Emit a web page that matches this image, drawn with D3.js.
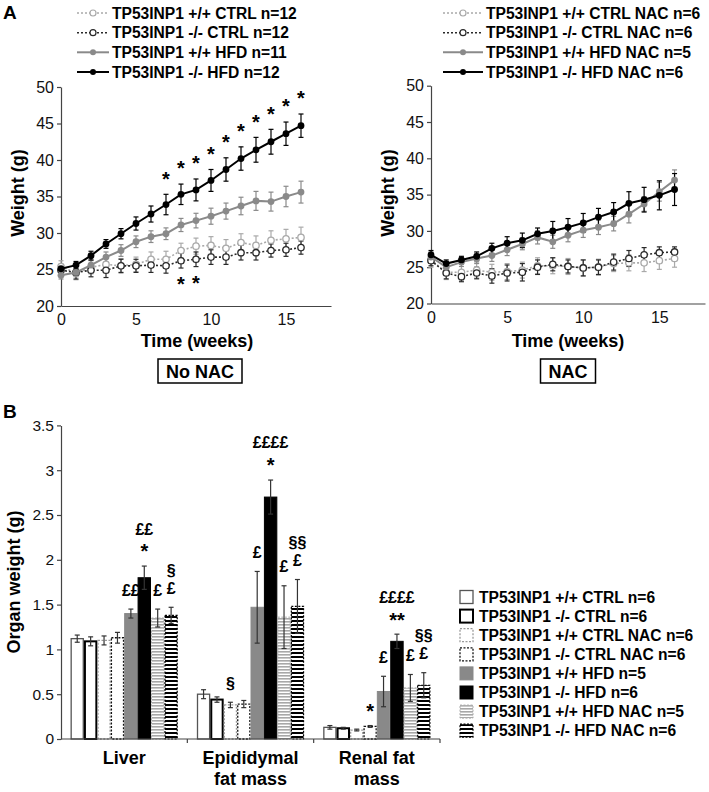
<!DOCTYPE html>
<html><head><meta charset="utf-8">
<script src="https://cdn.jsdelivr.net/npm/d3@7"></script>
<style>
body{margin:0;background:#fff}
svg{display:block}
text{font-family:"Liberation Sans",Arial,Helvetica,sans-serif;fill:#000}
</style>
</head><body>
<svg id="c" width="709" height="792"></svg>
<script>
// ---------- DATA ----------
const weeks = [0,1,2,3,4,5,6,7,8,9,10,11,12,13,14,15,16];
const yTicksLine = [20,25,30,35,40,45,50];
const xTicksLine = [0,5,10,15];

const lineLegendL = ["TP53INP1 +/+ CTRL n=12","TP53INP1 -/- CTRL n=12","TP53INP1 +/+ HFD n=11","TP53INP1 -/- HFD n=12"];
const lineLegendR = ["TP53INP1 +/+ CTRL NAC n=6","TP53INP1 -/- CTRL NAC n=6","TP53INP1 +/+ HFD NAC n=5","TP53INP1 -/- HFD NAC n=6"];

// No NAC
const ctrlWT = [25.4,24.5,25.3,25.7,25.5,25.7,26.4,26.4,27.6,28.2,28.3,27.9,28.7,28.3,29.0,29.2,29.4];
const ctrlWTErr = [0.8,0.9,0.9,1.0,1.0,1.0,1.0,1.1,1.0,1.1,1.2,1.2,1.2,1.3,1.3,1.3,1.4];
const ctrlKO = [24.9,24.6,24.9,24.9,25.5,25.5,25.6,25.5,26.2,26.4,26.7,26.7,27.3,27.3,27.6,27.7,28.0];
const ctrlKOErr = [0.8,0.9,0.9,1.0,0.9,0.9,1.0,1.0,1.0,1.0,1.0,1.0,1.0,1.0,0.9,0.9,0.9];
const hfdWT = [24.2,24.6,25.6,26.7,27.6,28.8,29.5,29.9,31.1,31.7,32.3,33.0,33.7,34.4,34.3,35.0,35.6];
const hfdWTErr = [0.5,0.6,0.7,0.7,0.8,0.8,0.8,0.8,0.9,1.0,1.1,1.1,1.2,1.3,1.3,1.4,1.5];
const hfdKO = [25.1,25.6,26.9,28.5,29.9,31.3,32.6,33.9,35.3,35.9,37.2,38.7,40.2,41.4,42.5,43.6,44.7];
const hfdKOErr = [0.5,0.5,0.6,0.6,0.7,0.9,1.1,1.4,1.4,1.5,1.5,1.6,1.6,1.7,1.7,1.6,1.6];
const starsAboveWeeks = [7,8,9,10,11,12,13,14,15,16];
const starsBelowWeeks = [8,9];

// NAC
const nacCtrlWT = [26.0,24.3,24.3,24.6,24.3,24.4,24.6,25.2,25.2,25.1,24.9,25.0,25.5,25.6,25.6,25.9,26.2];
const nacCtrlWTErr = [1.0,1.0,1.1,1.1,1.1,1.1,1.1,1.1,1.1,1.1,1.1,1.1,1.1,1.1,1.2,1.2,1.2];
const nacCtrlKO = [25.9,24.2,23.7,24.2,23.8,24.2,24.3,25.0,25.4,25.1,24.9,25.0,25.7,26.2,26.7,27.0,27.1];
const nacCtrlKOErr = [0.7,0.8,0.7,0.8,1.0,1.1,1.2,1.0,0.9,0.9,1.1,1.0,1.1,1.1,1.0,0.8,0.7];
const nacHfdWT = [26.4,25.0,25.7,26.2,26.6,27.4,28.2,29.1,28.5,29.4,30.1,30.5,31.0,32.3,33.7,35.4,37.0];
const nacHfdWTErr = [0.7,0.6,0.6,0.7,0.8,0.8,0.8,0.9,0.9,0.9,1.0,1.0,1.0,1.2,1.0,1.3,1.4];
const nacHfdKO = [26.7,25.5,26.0,26.5,27.6,28.3,28.7,29.6,30.0,30.5,31.1,31.9,32.6,33.8,34.3,34.9,35.7];
const nacHfdKOErr = [0.6,0.5,0.5,0.6,0.7,0.9,1.0,0.8,1.3,1.2,1.3,1.2,1.3,1.6,1.7,2.0,2.2];

// Organ weights
const organs = ["Liver","Epididymal fat mass","Renal fat mass"];
const organLabels = [["Liver"],["Epididymal","fat mass"],["Renal fat","mass"]];
const barGroups = ["TP53INP1 +/+ CTRL n=6","TP53INP1 -/- CTRL n=6","TP53INP1 +/+ CTRL NAC n=6","TP53INP1 -/- CTRL NAC n=6","TP53INP1 +/+ HFD n=5","TP53INP1 -/- HFD n=6","TP53INP1 +/+ HFD NAC n=5","TP53INP1 -/- HFD NAC n=6"];
const liverMean = [1.12,1.09,1.10,1.13,1.40,1.80,1.35,1.38];
const liverErr  = [0.04,0.05,0.05,0.06,0.05,0.13,0.10,0.09];
const epiMean   = [0.50,0.44,0.38,0.39,1.47,2.70,1.36,1.48];
const epiErr    = [0.05,0.03,0.03,0.04,0.40,0.19,0.35,0.30];
const renalMean = [0.13,0.12,0.10,0.14,0.53,1.09,0.57,0.60];
const renalErr  = [0.02,0.01,0.01,0.01,0.17,0.08,0.15,0.14];
const liverMarks = [[],[],[],[],["££"],["*","££"],["£"],["£","§"]];
const epiMarks   = [[],[],["§"],[],["£"],["*","££££"],["£"],["£","§§"]];
const renalMarks = [[],[],[],["*"],["£"],["**","££££"],["£"],["£","§§"]];
const yTicksBar = [0,0.5,1,1.5,2,2.5,3,3.5];

// ---------- DRAW ----------
const svg = d3.select("#c");
const defs = svg.append("defs");
const pd = defs.append("pattern").attr("id","hatchDark").attr("patternUnits","userSpaceOnUse").attr("width",4).attr("height",4);
pd.append("rect").attr("width",4).attr("height",4).attr("fill","#fff");
pd.append("rect").attr("width",4).attr("height",2).attr("fill","#000");
const pl = defs.append("pattern").attr("id","hatchLight").attr("patternUnits","userSpaceOnUse").attr("width",4).attr("height",3);
pl.append("rect").attr("width",4).attr("height",3).attr("fill","#fff");
pl.append("rect").attr("width",4).attr("height",1.6).attr("fill","#a8a8a8");

const lineStyles = [
  {color:"#a9a9a9", dash:"2,2", open:true},
  {color:"#2a2a2a", dash:"2,2", open:true},
  {color:"#8a8a8a", dash:null, open:false},
  {color:"#000000", dash:null, open:false}
];

function glyphBaseline(t, cy, fs){ return t.indexOf("*")>=0 ? cy + 0.57*fs : cy + 0.34*fs; }

function lineChart(x, y, series, errs, above, below, legend, legendX){
  const g = svg.append("g");
  const ya = g.append("g").attr("transform",`translate(${x(0)},0)`)
    .call(d3.axisLeft(y).tickValues(yTicksLine).tickSize(4).tickSizeOuter(0).tickPadding(3));
  const xa = g.append("g").attr("transform",`translate(0,${y(20)})`)
    .call(d3.axisBottom(x).tickValues(xTicksLine).tickSize(0).tickSizeOuter(0).tickPadding(8));
  [ya,xa].forEach(a=>{a.selectAll("text").attr("font-size",16).attr("font-family",null).style("fill","#111");
    a.selectAll("path,line").attr("stroke","#444").attr("stroke-width",1.2);});
  series.forEach((s,k)=>{
    const st = lineStyles[k], e = errs[k];
    const eg = g.append("g").attr("stroke",st.color).attr("stroke-width",1.2);
    weeks.forEach((w,i)=>{
      const cx = x(w), y1 = y(s[i]-e[i]), y2 = y(s[i]+e[i]);
      eg.append("line").attr("x1",cx).attr("x2",cx).attr("y1",y1).attr("y2",y2);
      eg.append("line").attr("x1",cx-2.5).attr("x2",cx+2.5).attr("y1",y1).attr("y2",y1);
      eg.append("line").attr("x1",cx-2.5).attr("x2",cx+2.5).attr("y1",y2).attr("y2",y2);
    });
  });
  series.forEach((s,k)=>{
    const st = lineStyles[k];
    g.append("path").datum(weeks).attr("fill","none").attr("stroke",st.color)
      .attr("stroke-width",st.open?1.6:2).attr("stroke-dasharray",st.dash)
      .attr("d",d3.line().x(w=>x(w)).y((w,i)=>y(s[i])));
    g.selectAll(null).data(weeks).join("circle")
      .attr("cx",w=>x(w)).attr("cy",(w,i)=>y(s[i])).attr("r",st.open?3.2:3.4)
      .attr("fill",st.open?"#fff":st.color).attr("stroke",st.color).attr("stroke-width",st.open?1.3:0);
  });
  if(above){
    const s = series[3], e = errs[3];
    above.forEach(w=>{ const cy = y(s[w]+e[w]) - 20;
      g.append("text").attr("x",x(w)).attr("y",glyphBaseline("*",cy,20)).attr("text-anchor","middle")
       .attr("font-size",20).attr("font-weight","bold").text("*"); });
  }
  if(below){
    const s = series[1], e = errs[1];
    below.forEach(w=>{ const cy = y(s[w]-e[w]) + 12;
      g.append("text").attr("x",x(w)).attr("y",glyphBaseline("*",cy,20)).attr("text-anchor","middle")
       .attr("font-size",20).attr("font-weight","bold").text("*"); });
  }
  const rowY = [13,32.7,52.3,72];
  legend.forEach((t,k)=>{
    const st = lineStyles[k], cy = rowY[k];
    const lx = legendX[0], lx2 = legendX[1];
    g.append("line").attr("x1",lx).attr("x2",lx2).attr("y1",cy).attr("y2",cy)
      .attr("stroke",st.color).attr("stroke-width",st.open?1.4:2).attr("stroke-dasharray",st.dash);
    g.append("circle").attr("cx",(lx+lx2)/2).attr("cy",cy).attr("r",3)
      .attr("fill",st.open?"#fff":st.color).attr("stroke",st.color).attr("stroke-width",st.open?1.2:0);
    g.append("text").attr("x",lx2+3).attr("y",cy+5.5).attr("font-size",15.6).attr("font-weight","bold").text(t);
  });
  return g;
}

const xL = d3.scaleLinear().domain([0,18]).range([61,331]);
const yL = d3.scaleLinear().domain([20,50]).range([306,87]);
const xR = d3.scaleLinear().domain([0,18]).range([431,705]);
const yR = d3.scaleLinear().domain([20,50]).range([303.5,85.7]);

lineChart(xL, yL, [ctrlWT,ctrlKO,hfdWT,hfdKO], [ctrlWTErr,ctrlKOErr,hfdWTErr,hfdKOErr], starsAboveWeeks, starsBelowWeeks, lineLegendL, [77,109]);
lineChart(xR, yR, [nacCtrlWT,nacCtrlKO,nacHfdWT,nacHfdKO], [nacCtrlWTErr,nacCtrlKOErr,nacHfdWTErr,nacHfdKOErr], null, null, lineLegendR, [443,483]);

function vLabel(x, cy, t, fs){
  svg.append("text").attr("transform",`translate(${x},${cy}) rotate(-90)`).attr("text-anchor","middle")
    .attr("font-size",fs).attr("font-weight","bold").text(t);
}
vLabel(24, 193, "Weight (g)", 18);
vLabel(394, 193, "Weight (g)", 18);
svg.append("text").attr("x",197).attr("y",347).attr("text-anchor","middle").attr("font-size",18).attr("font-weight","bold").text("Time (weeks)");
svg.append("text").attr("x",568).attr("y",347).attr("text-anchor","middle").attr("font-size",18).attr("font-weight","bold").text("Time (weeks)");
function boxLabel(cx, cy, t){
  const bg = svg.append("g");
  const rect = bg.append("rect");
  const tx = bg.append("text").attr("x",cx).attr("y",cy+6.5).attr("text-anchor","middle").attr("font-size",18).attr("font-weight","bold").text(t);
  const w = tx.node().getComputedTextLength();
  rect.attr("x",cx-w/2-8).attr("y",cy-12).attr("width",w+16).attr("height",24)
    .attr("fill","#fff").attr("stroke","#000").attr("stroke-width",1.5);
}
boxLabel(200, 371, "No NAC");
boxLabel(568, 371, "NAC");
svg.append("text").attr("x",3).attr("y",19).attr("font-size",19).attr("font-weight","bold").text("A");
svg.append("text").attr("x",3).attr("y",418).attr("font-size",19).attr("font-weight","bold").text("B");

// ---------- BAR CHART ----------
const yB = d3.scaleLinear().domain([0,3.5]).range([739,425.4]);
const x0 = d3.scaleBand().domain(organs).range([61,440]).padding(0);
const x1 = d3.scaleBand().domain(d3.range(barGroups.length)).range([0,x0.bandwidth()]).paddingInner(0).paddingOuter(0.71);
const barMeans = [liverMean, epiMean, renalMean];
const barErrs = [liverErr, epiErr, renalErr];
const barMarks = [liverMarks, epiMarks, renalMarks];
const barStyle = [
  {fill:"#fff", stroke:"#555", sw:1.3, dash:null},
  {fill:"#fff", stroke:"#000", sw:2, dash:null},
  {fill:"#fff", stroke:"#9a9a9a", sw:1.3, dash:"2,1.5"},
  {fill:"#fff", stroke:"#111", sw:1.3, dash:"2,1.5"},
  {fill:"#898989", stroke:"#898989", sw:1, dash:null},
  {fill:"#000", stroke:"#000", sw:1, dash:null},
  {fill:"url(#hatchLight)", stroke:"#aaa", sw:1, dash:"2,1.5"},
  {fill:"url(#hatchDark)", stroke:"#000", sw:1.2, dash:"2,1.5"}
];
const gb = svg.append("g");
const yaB = gb.append("g").attr("transform",`translate(61,0)`)
  .call(d3.axisLeft(yB).tickValues(yTicksBar).tickFormat(d=>String(d)).tickSize(4).tickSizeOuter(0).tickPadding(3));
yaB.selectAll("text").attr("font-size",15.5).attr("font-family",null).style("fill","#111");
yaB.selectAll("path,line").attr("stroke","#444").attr("stroke-width",1.2);

organs.forEach((o,oi)=>{
  const gx = x0(o);
  barGroups.forEach((b,bi)=>{
    const st = barStyle[bi], v = barMeans[oi][bi], e = barErrs[oi][bi];
    const bx = gx + x1(bi), bw = x1.bandwidth();
    const inset = st.sw/2;
    gb.append("rect").attr("x",bx+inset).attr("y",yB(v)).attr("width",bw-2*inset).attr("height",yB(0)-yB(v))
      .attr("fill",st.fill).attr("stroke",st.stroke).attr("stroke-width",st.sw).attr("stroke-dasharray",st.dash);
    const cx = bx + bw/2, y1 = yB(v-e), y2 = yB(v+e);
    const eg = gb.append("g").attr("stroke","#333").attr("stroke-width",1.2);
    eg.append("line").attr("x1",cx).attr("x2",cx).attr("y1",y1).attr("y2",y2);
    eg.append("line").attr("x1",cx-2.5).attr("x2",cx+2.5).attr("y1",y1).attr("y2",y1);
    eg.append("line").attr("x1",cx-2.5).attr("x2",cx+2.5).attr("y1",y2).attr("y2",y2);
    barMarks[oi][bi].forEach((t,li)=>{
      const cy = y2 - 19 - li*18;
      const fs = t.indexOf("*")>=0 ? 20 : 16;
      gb.append("text").attr("x",cx).attr("y",glyphBaseline(t,cy,fs)).attr("text-anchor","middle")
        .attr("font-size",fs).attr("font-weight","bold").text(t);
    });
  });
  organLabels[oi].forEach((t,li)=>{
    gb.append("text").attr("x",gx+x0.bandwidth()/2).attr("y",763.5+li*21).attr("text-anchor","middle")
      .attr("font-size",18).attr("font-weight","bold").text(t);
  });
});
gb.append("line").attr("x1",61).attr("x2",440).attr("y1",yB(0)).attr("y2",yB(0)).attr("stroke","#444").attr("stroke-width",1.2);
organs.forEach(o=>{
  const xx = x0(o)+x0.bandwidth();
  gb.append("line").attr("x1",xx).attr("x2",xx).attr("y1",yB(0)).attr("y2",yB(0)+4).attr("stroke","#444").attr("stroke-width",1.2);
});
vLabel(20, 582, "Organ weight  (g)", 18);

barGroups.forEach((t,bi)=>{
  const st = barStyle[bi], cy = 597 + bi*19.1;
  gb.append("rect").attr("x",460).attr("y",cy-6.5).attr("width",13).attr("height",13)
    .attr("fill",st.fill).attr("stroke",st.stroke).attr("stroke-width",st.sw).attr("stroke-dasharray",st.dash);
  gb.append("text").attr("x",479).attr("y",cy+5.5).attr("font-size",15.6).attr("font-weight","bold").text(t);
});
</script>
</body></html>
